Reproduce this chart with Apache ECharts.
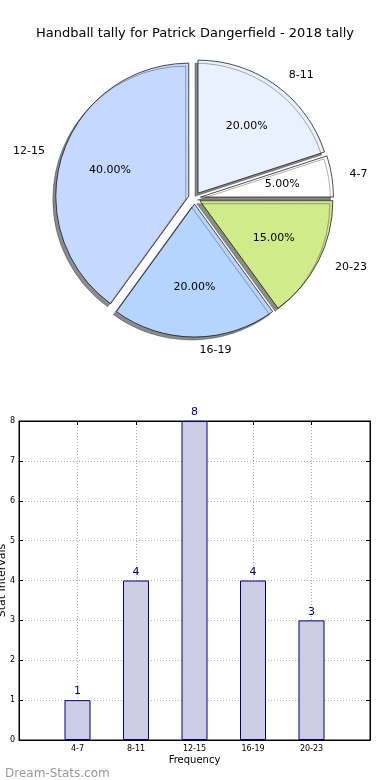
<!DOCTYPE html>
<html>
<head>
<meta charset="utf-8">
<script src="https://cdn.jsdelivr.net/npm/echarts@6/dist/echarts.min.js"></script>
<style>html,body{margin:0;padding:0;background:#fff;}#c{width:390px;height:780px;}</style>
</head>
<body>
<div id="c"></div>
<script>
const categories = ['4-7', '8-11', '12-15', '16-19', '20-23'];
const counts = [1, 4, 8, 4, 3];
const sliceColors = ['#ffffff', '#eaf1fe', '#c5d9fe', '#b5d5fe', '#cfeb8a'];
const yTicks = [0, 1, 2, 3, 4, 5, 6, 7, 8];

const FONT = 'DejaVu Sans';
const total = counts.reduce((a, b) => a + b, 0);
const pieData = categories.map((c, i) => ({
  name: c, value: counts[i], selected: true, itemStyle: { color: sliceColors[i] }
}));
const labelData = categories.map((c, i) => ({ name: c, value: counts[i], selected: true }));
const barData = counts.map((v, i) => [i + 1, v]);

const chart = echarts.init(document.getElementById('c'), null, { renderer: 'canvas' });
const PIE_C = [194.5, 198];
const PIE_R = 133;
const START = 0.02;
const AX_LINE = { show: true, onZero: false, lineStyle: { color: '#000' } };
const AX_TICK = { show: true, inside: true, length: 4, lineStyle: { color: '#000' } };
chart.setOption({
  animation: false,
  backgroundColor: '#fff',
  title: [
    { text: 'Handball tally for Patrick Dangerfield - 2018 tally', left: 'center', top: 22,
      textStyle: { fontFamily: FONT, fontSize: 13, fontWeight: 'normal', color: '#000' } },
    { text: 'Dream-Stats.com', left: 0, top: 763,
      textStyle: { fontFamily: FONT, fontSize: 12, fontWeight: 'normal', color: '#999999' } }
  ],
  grid: { left: 19, right: 20, top: 421, bottom: 40, outerBoundsMode: 'none', containLabel: false,
    show: true, borderColor: '#000', borderWidth: 1, backgroundColor: 'transparent' },
  xAxis: [{
    type: 'value', min: 0, max: 6, interval: 1, position: 'bottom',
    name: 'Frequency', nameLocation: 'middle', nameGap: 15, nameMoveOverlap: false,
    nameTextStyle: { fontFamily: FONT, fontSize: 10, color: '#000' },
    axisLine: AX_LINE, axisTick: AX_TICK,
    axisLabel: { fontFamily: FONT, fontSize: 8, color: '#000', margin: 5,
      formatter: v => (v >= 1 && v <= categories.length) ? categories[v - 1] : '' },
    splitLine: { show: true, lineStyle: { color: '#b0b0b0', type: [1, 2], width: 1 } }
  }, {
    type: 'value', min: 0, max: 6, interval: 1, position: 'top',
    axisLine: AX_LINE, axisTick: AX_TICK,
    axisLabel: { show: false }, splitLine: { show: false }
  }],
  yAxis: [{
    type: 'value', min: 0, max: 8, interval: 1, position: 'left',
    name: 'Stat Intervals', nameLocation: 'middle', nameGap: 11, nameMoveOverlap: false,
    nameTextStyle: { fontFamily: FONT, fontSize: 11, color: '#000' },
    axisLine: AX_LINE, axisTick: AX_TICK,
    axisLabel: { fontFamily: FONT, fontSize: 8, color: '#000', margin: 4,
      formatter: v => yTicks.indexOf(v) >= 0 ? String(v) : '' },
    splitLine: { show: true, lineStyle: { color: '#b0b0b0', type: [1, 2], width: 1 } }
  }, {
    type: 'value', min: 0, max: 8, interval: 1, position: 'right',
    axisLine: AX_LINE, axisTick: AX_TICK,
    axisLabel: { show: false }, splitLine: { show: false }
  }],
  series: [
    {
      type: 'pie', center: PIE_C, radius: PIE_R,
      startAngle: START, clockwise: false,
      selectedMode: 'multiple', selectedOffset: 6,
      avoidLabelOverlap: false, silent: true,
      itemStyle: { borderColor: '#000', borderWidth: 0.7,
        shadowColor: 'rgba(0,0,0,0.45)', shadowOffsetX: -3, shadowOffsetY: 3, shadowBlur: 0 },
      select: { itemStyle: { borderColor: '#000', borderWidth: 0.7 } },
      emphasis: { disabled: true },
      label: { show: true, position: 'outside', fontFamily: FONT, fontSize: 11, color: '#000',
        formatter: p => p.name },
      labelLine: { show: false, length: 13, length2: 0 },
      data: pieData
    },
    {
      type: 'pie', center: PIE_C, radius: [PIE_R * 0.2, PIE_R],
      startAngle: START, clockwise: false,
      selectedMode: 'multiple', selectedOffset: 6,
      avoidLabelOverlap: false, silent: true,
      itemStyle: { color: 'rgba(0,0,0,0)', borderWidth: 0 },
      select: { itemStyle: { color: 'rgba(0,0,0,0)', borderWidth: 0 } },
      emphasis: { disabled: true },
      label: { show: true, position: 'inside', fontFamily: FONT, fontSize: 11, color: '#000',
        formatter: p => (p.value / total * 100).toFixed(2) + '%' },
      labelLine: { show: false },
      data: labelData
    },
    {
      type: 'bar', xAxisIndex: 0, yAxisIndex: 0, barWidth: 26,
      itemStyle: { color: '#ccccE4', borderColor: '#000080', borderWidth: 1 },
      label: { show: true, position: 'top', distance: 3, fontFamily: FONT, fontSize: 11, color: '#000080' },
      data: barData
    }
  ]
});
</script>
</body>
</html>
